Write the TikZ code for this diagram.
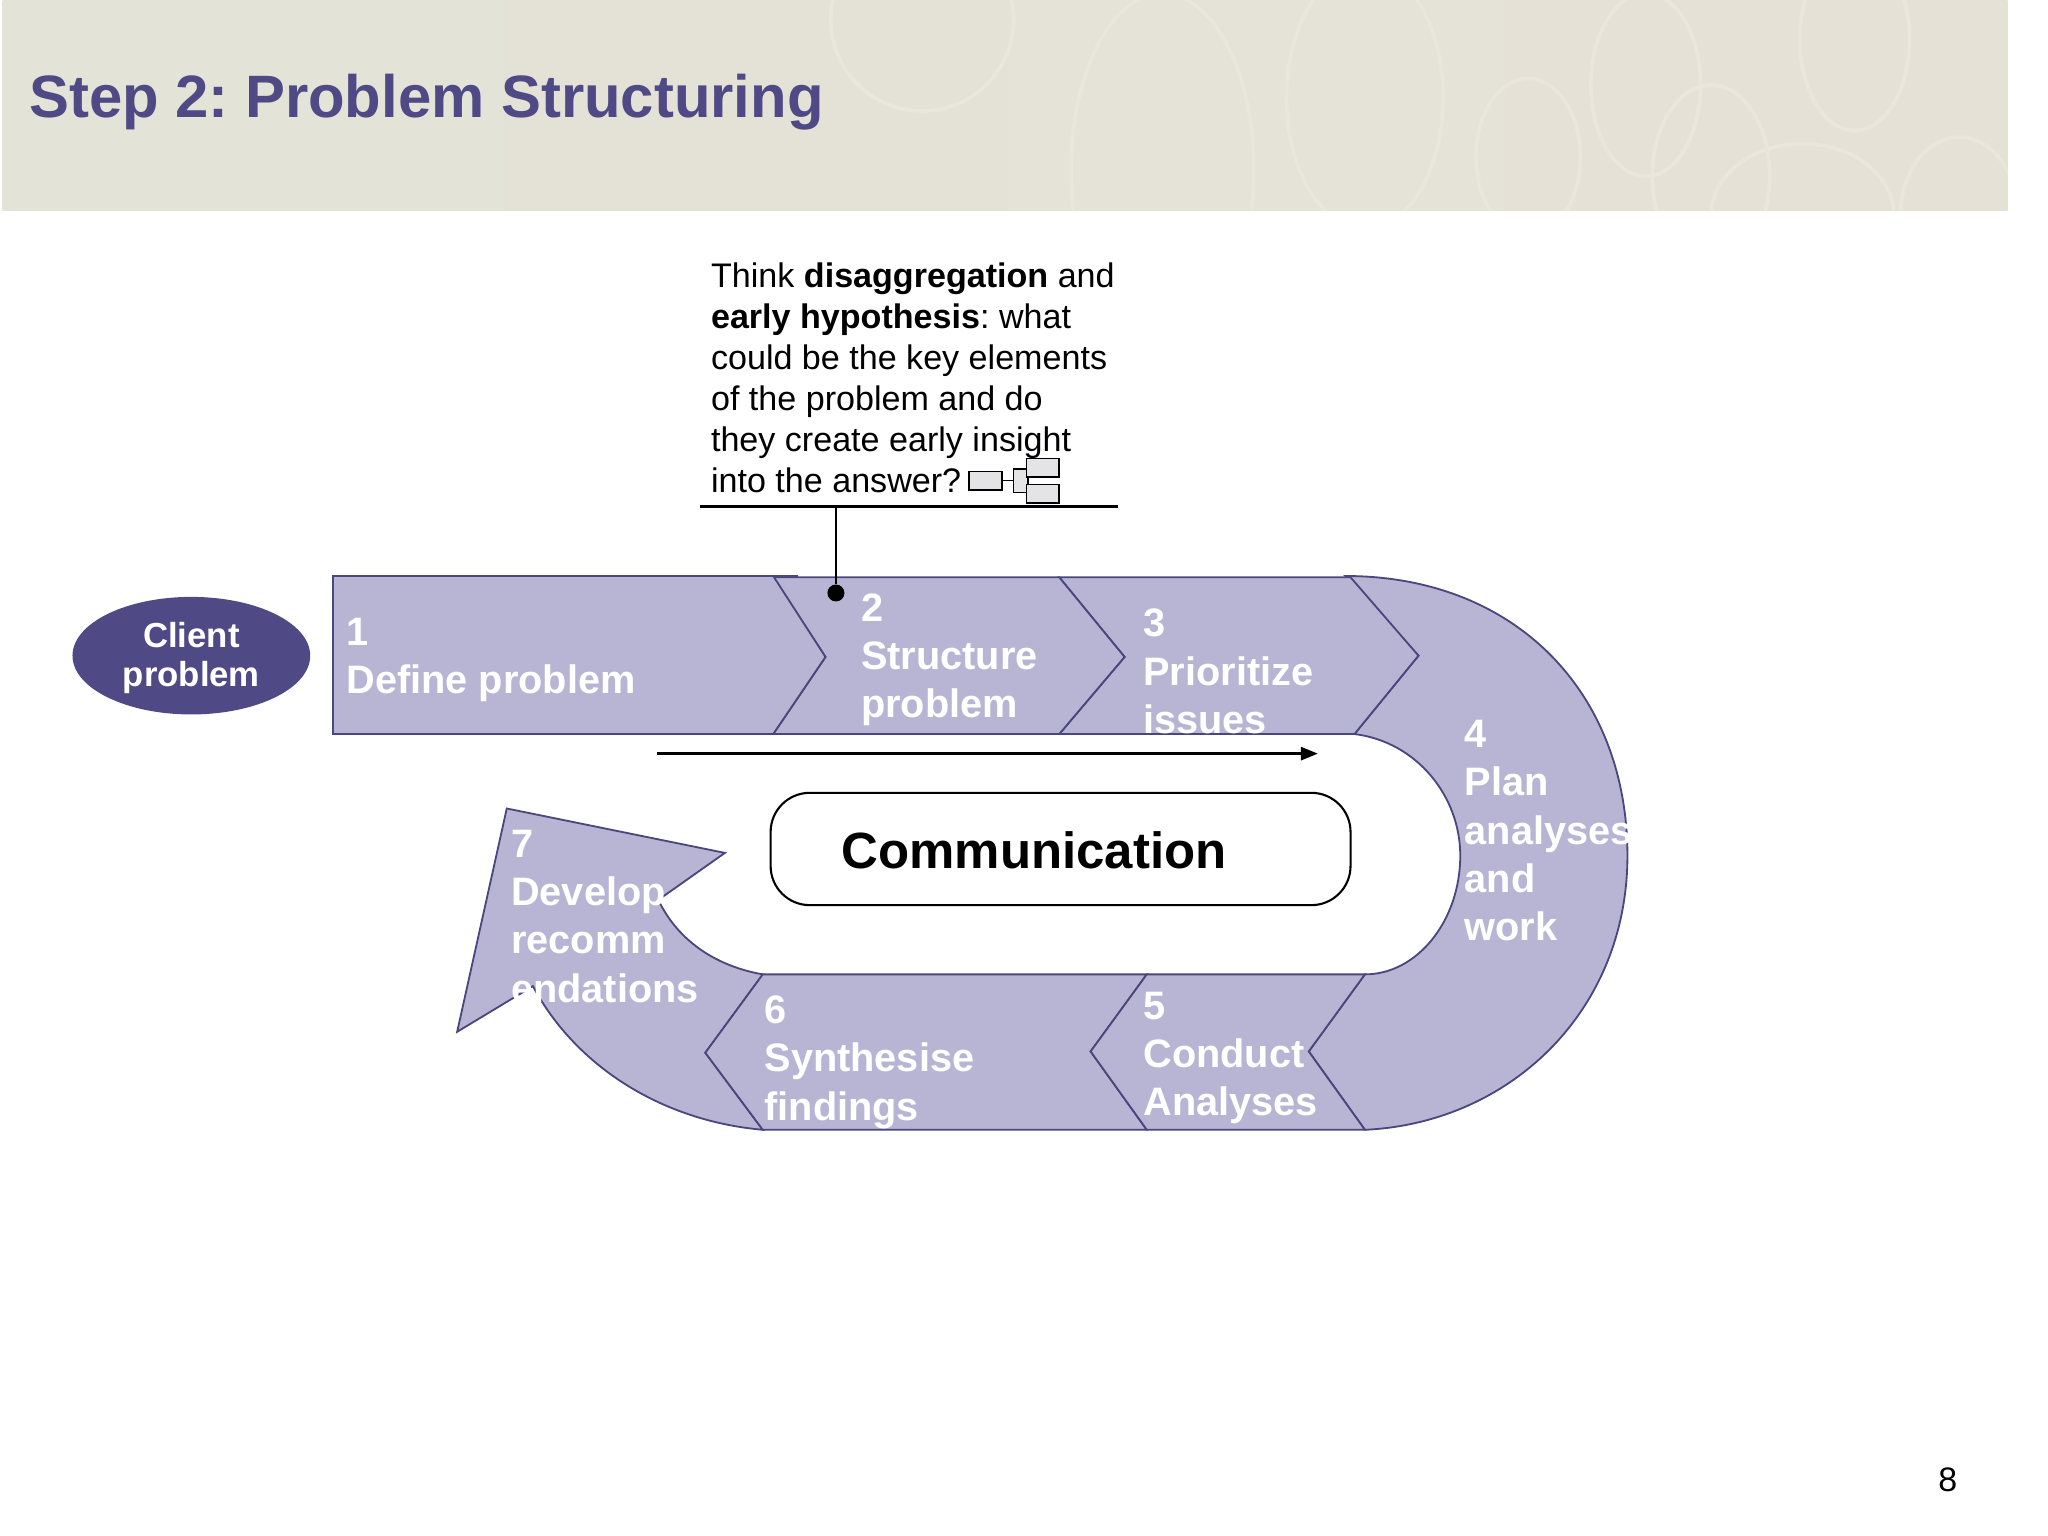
\documentclass[tikz,border=0pt]{standalone}
\usepackage{fontspec}
\usetikzlibrary{shapes.geometric,arrows.meta}
\setmainfont{Liberation Sans}
\definecolor{bandA}{HTML}{E3E3D7}
\definecolor{bandB}{HTML}{E6E1D7}
\definecolor{bandline}{HTML}{E9E7DC}
\definecolor{titlec}{HTML}{4F4A85}
\definecolor{chev}{HTML}{B8B4D3}
\definecolor{chevline}{HTML}{4A4680}
\definecolor{tree}{HTML}{E4E3E6}
\tikzset{
  chevron/.style={fill=chev,draw=chevline,line width=0.7pt,line join=miter},
  steplabel/.style={text=white,font=\bfseries\fontsize{15.2}{18.5}\selectfont,anchor=north west,inner sep=0pt,align=left},
  treebox/.style={fill=tree,draw=black,line width=0.6pt,rectangle,inner sep=0pt,minimum width=0pt},
  wire/.style={draw=black,line width=1pt},
  swirl/.style={draw=bandline,line width=1.4pt}
}
\frenchspacing
\begin{document}
\frenchspacing
\begin{tikzpicture}[x=0.5pt,y=-0.5pt]
\useasboundingbox (0,0) rectangle (1568,1176);
% banner
\shade[left color=bandA,right color=bandB] (2,0) rectangle (1537,161);
\begin{scope}
\clip (2,0) rectangle (1537,161);
\draw[swirl] (706,15) ellipse (70 and 70);
\draw[swirl] (1045,75) ellipse (60 and 100);
\draw[swirl] (890,130) ellipse (70 and 135);
\draw[swirl] (1260,65) ellipse (42 and 70);
\draw[swirl] (1310,135) ellipse (45 and 70);
\draw[swirl] (1170,120) ellipse (40 and 60);
\draw[swirl] (1380,165) ellipse (70 and 55);
\draw[swirl] (1500,165) ellipse (45 and 60);
\draw[swirl] (1420,30) ellipse (42 and 70);
\end{scope}
\node[anchor=base west,inner sep=0pt,text=titlec,font=\bfseries\fontsize{22.9}{28}\selectfont] (title) at (22,90) {Step 2: Problem Structuring};
% note
\node[anchor=north west,inner sep=0pt,align=left,font=\fontsize{13.05}{15.7}\selectfont] (note) at (544,200.5)
 {Think \textbf{disaggregation} and\\\textbf{early hypothesis}: what\\could be the key elements\\of the problem and do\\they create early insight\\into the answer?};
\node[treebox,minimum width=12.5pt,minimum height=7pt] (t1) at (754.5,368) {};
\node[treebox,minimum width=5.5pt,minimum height=9pt] (t2) at (781.5,368) {};
\node[treebox,minimum width=12.5pt,minimum height=7pt] (t3) at (798.5,358) {};
\node[treebox,minimum width=12.5pt,minimum height=7pt] (t4) at (798.5,378) {};
\draw[line width=0.6pt] (t1) -- (t2);
\coordinate (ruleL) at (536,388);
\coordinate (ruleR) at (856,388);
\coordinate (ruleM) at (640,388);
\draw[wire] (ruleL) -- (ruleR);
% chevrons
\draw[chevron] (1030,441) .. controls (1160,441) and (1246,530) .. (1246,655) .. controls (1246,775) and (1155,860) .. (1045,865) -- (1002,805) -- (1045,746) .. controls (1085,746) and (1118,705) .. (1118,655) .. controls (1118,610) and (1085,568) .. (1037,562) -- (1086,502) -- cycle;
\draw[chevron] (811,442) -- (1034,442) -- (1086,502) -- (1037,562) -- (811,562) -- (861,503) -- cycle;
\draw[chevron] (592,442) -- (811,442) -- (861,503) -- (811,562) -- (592,562) -- (632,503) -- cycle;
\draw[chevron] (255,441) -- (611,441) -- (592,441) -- (632,503) -- (592,562) -- (255,562) -- cycle;
\draw[chevron] (584,746) .. controls (550,740) and (520,722) .. (504,689) -- (555,653) -- (388,619) -- (350,790) -- (408,755) .. controls (440,815) and (505,858) .. (584,865) -- (540,806) -- cycle;
\draw[chevron] (584,746) -- (878,746) -- (835,805) -- (878,865) -- (584,865) -- (540,806) -- cycle;
\draw[chevron] (878,746) -- (1045,746) -- (1002,805) -- (1045,865) -- (878,865) -- (835,805) -- cycle;
% pointer
\node[circle,fill=black,inner sep=0pt,minimum size=6.5pt] (dot) at (640,454) {};
\draw[wire] (ruleM) -- (dot);
% client
\node[ellipse,fill=titlec,minimum width=91pt,minimum height=45pt,inner sep=0pt] (client) at (146.5,502) {};
\node[text=white,inner sep=0pt,align=center,font=\bfseries\fontsize{13.3}{15}\selectfont] (clienttext) at (146.5,504) {Client\\problem};
% labels
\node[steplabel] (s1) at (265,473) {1\\Define problem};
\node[steplabel] (s2) at (659,454) {2\\Structure\\problem};
\node[steplabel] (s3) at (875,466) {3\\Prioritize\\issues};
\node[steplabel] (s4) at (1121,551) {4\\Plan\\analyses\\and\\work};
\node[steplabel] (s5) at (875,759) {5\\Conduct\\Analyses};
\node[steplabel] (s6) at (585,762) {6\\Synthesise\\findings};
\node[steplabel] (s7) at (391,635) {7\\Develop\\recomm\\endations};
% communication
\coordinate (arrowA) at (503,577);
\coordinate (arrowB) at (1009,577);
\draw[wire,-{Triangle[length=6.5pt,width=5pt]}] (arrowA) -- (arrowB);
\node[draw=black,line width=0.8pt,rounded corners=15pt,minimum width=222pt,minimum height=43pt,inner sep=0pt] (commbox) at (812,650) {};
\node[anchor=base west,inner sep=0pt,font=\bfseries\fontsize{19.5}{24}\selectfont] (comm) at (644,665) {Communication};
% page number
\node[anchor=base east,inner sep=0pt,font=\fontsize{13}{15}\selectfont] (page) at (1499,1142) {8};
\end{tikzpicture}
\end{document}
